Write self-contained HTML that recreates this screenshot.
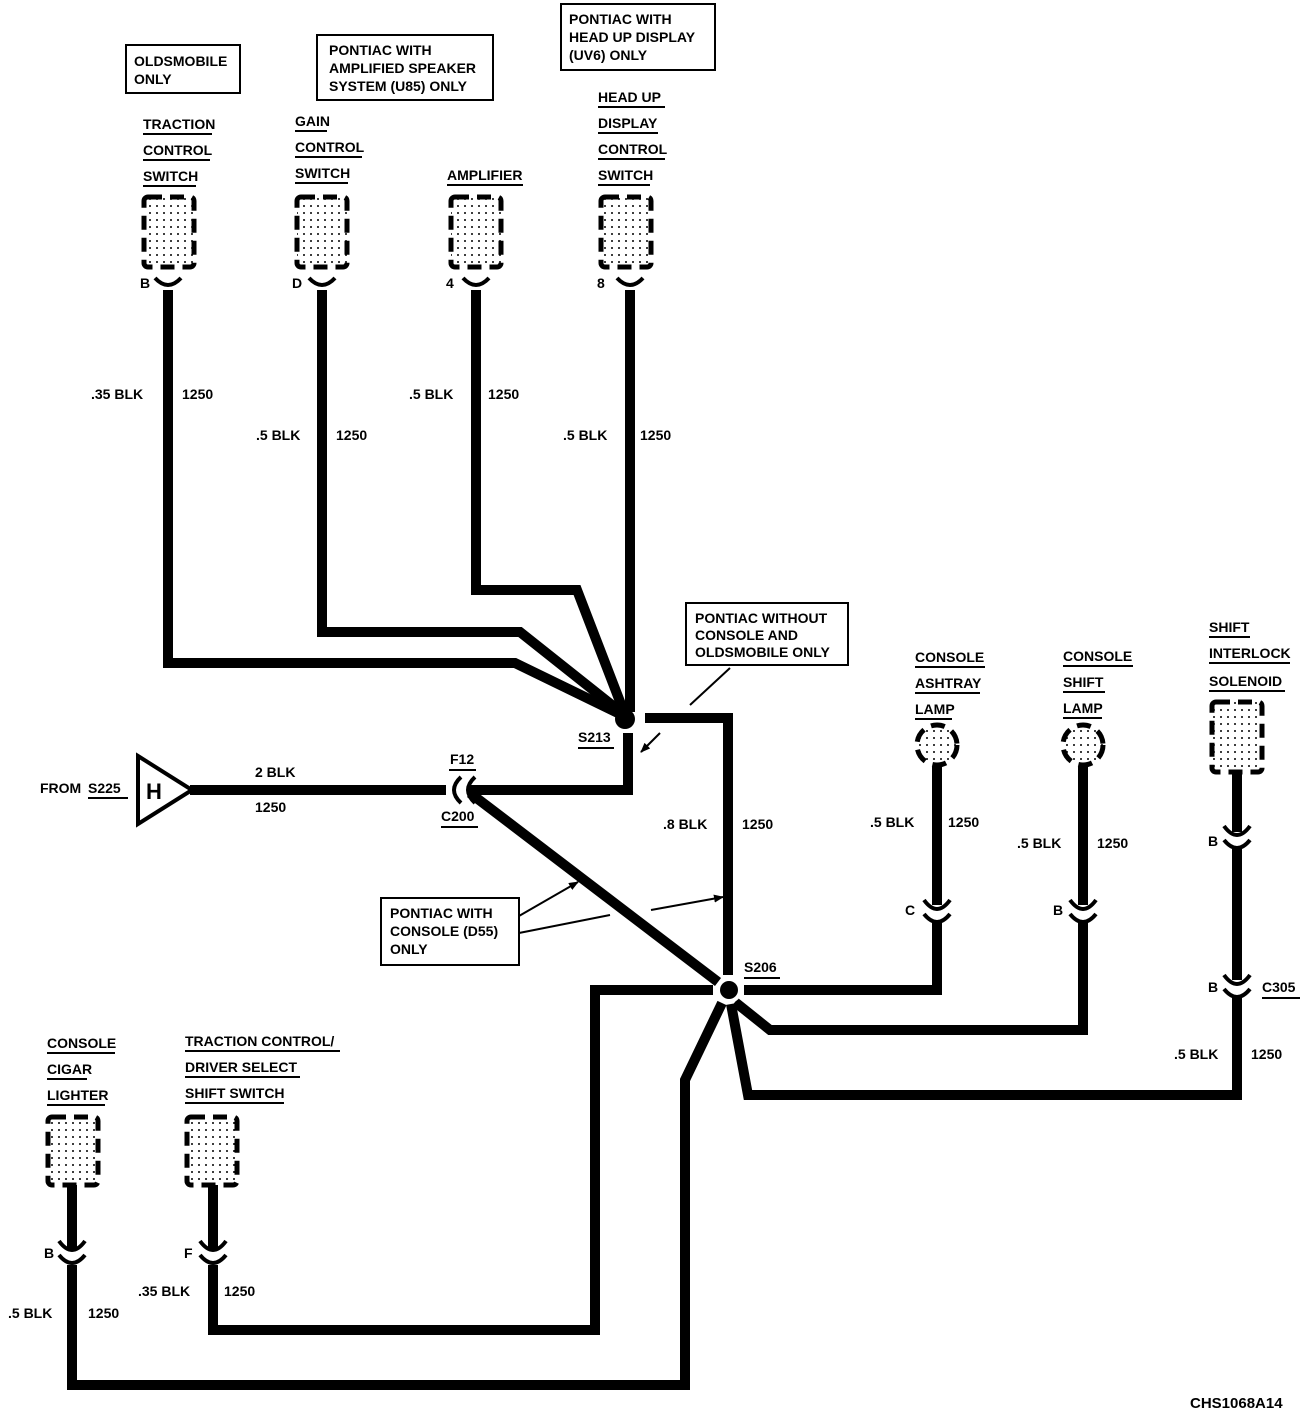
<!DOCTYPE html>
<html><head><style>
html,body{margin:0;padding:0;background:#fff;}
svg text{font-family:"Liberation Sans",sans-serif;font-weight:bold;font-size:14px;fill:#000;}
</style></head><body>
<svg width="1312" height="1416" viewBox="0 0 1312 1416" xmlns="http://www.w3.org/2000/svg">
<defs>
<pattern id="dots" width="7" height="7" patternUnits="userSpaceOnUse"><circle cx="3" cy="3" r="1" fill="#000"/></pattern>
<marker id="ar" markerWidth="10" markerHeight="8" refX="9" refY="4" orient="auto" markerUnits="userSpaceOnUse"><path d="M0 0 L10 4 L0 8 Z" fill="#000"/></marker>
</defs>

<g fill="none" stroke="#000" stroke-width="2">
<rect x="126" y="45" width="114" height="48"/>
<rect x="317" y="35" width="176" height="65"/>
<rect x="561" y="4" width="154" height="66"/>
<rect x="686" y="603" width="162" height="62"/>
<rect x="381" y="898" width="138" height="67"/>
</g>
<text x="134" y="66">OLDSMOBILE</text><text x="134" y="84">ONLY</text>
<text x="329" y="55">PONTIAC WITH</text><text x="329" y="73">AMPLIFIED SPEAKER</text><text x="329" y="91">SYSTEM (U85) ONLY</text>
<text x="569" y="24">PONTIAC WITH</text><text x="569" y="42">HEAD UP DISPLAY</text><text x="569" y="60">(UV6) ONLY</text>
<text x="695" y="623">PONTIAC WITHOUT</text><text x="695" y="640">CONSOLE AND</text><text x="695" y="657">OLDSMOBILE ONLY</text>
<text x="390" y="918">PONTIAC WITH</text><text x="390" y="936">CONSOLE (D55)</text><text x="390" y="954">ONLY</text>

<g>
<text x="143" y="129">TRACTION</text><text x="143" y="155">CONTROL</text><text x="143" y="181">SWITCH</text>
<text x="295" y="126">GAIN</text><text x="295" y="152">CONTROL</text><text x="295" y="178">SWITCH</text>
<text x="447" y="180">AMPLIFIER</text>
<text x="598" y="102">HEAD UP</text><text x="598" y="128">DISPLAY</text><text x="598" y="154">CONTROL</text><text x="598" y="180">SWITCH</text>
<text x="915" y="662">CONSOLE</text><text x="915" y="688">ASHTRAY</text><text x="915" y="714">LAMP</text>
<text x="1063" y="661">CONSOLE</text><text x="1063" y="687">SHIFT</text><text x="1063" y="713">LAMP</text>
<text x="1209" y="632">SHIFT</text><text x="1209" y="658">INTERLOCK</text><text x="1209" y="686">SOLENOID</text>
<text x="47" y="1048">CONSOLE</text><text x="47" y="1074">CIGAR</text><text x="47" y="1100">LIGHTER</text>
<text x="185" y="1046">TRACTION CONTROL/</text><text x="185" y="1072">DRIVER SELECT</text><text x="185" y="1098">SHIFT SWITCH</text>
</g>
<g stroke="#000" stroke-width="2">
<line x1="143" y1="134" x2="212" y2="134"/><line x1="143" y1="160" x2="210" y2="160"/><line x1="143" y1="186" x2="196" y2="186"/>
<line x1="295" y1="131" x2="327" y2="131"/><line x1="295" y1="157" x2="362" y2="157"/><line x1="295" y1="183" x2="348" y2="183"/>
<line x1="447" y1="185" x2="523" y2="185"/>
<line x1="598" y1="107" x2="665" y2="107"/><line x1="598" y1="133" x2="658" y2="133"/><line x1="598" y1="159" x2="665" y2="159"/><line x1="598" y1="185" x2="650" y2="185"/>
<line x1="915" y1="667" x2="985" y2="667"/><line x1="915" y1="693" x2="980" y2="693"/><line x1="915" y1="719" x2="952" y2="719"/>
<line x1="1063" y1="666" x2="1133" y2="666"/><line x1="1063" y1="692" x2="1105" y2="692"/><line x1="1063" y1="718" x2="1102" y2="718"/>
<line x1="1209" y1="637" x2="1250" y2="637"/><line x1="1209" y1="663" x2="1290" y2="663"/><line x1="1209" y1="691" x2="1285" y2="691"/>
<line x1="47" y1="1053" x2="115" y2="1053"/><line x1="47" y1="1079" x2="87" y2="1079"/><line x1="47" y1="1105" x2="105" y2="1105"/>
<line x1="185" y1="1051" x2="340" y2="1051"/><line x1="185" y1="1077" x2="300" y2="1077"/><line x1="185" y1="1103" x2="284" y2="1103"/>
</g>

<g stroke="#000" stroke-width="5" stroke-dasharray="14 8" fill="url(#dots)">
<rect x="144" y="197" width="50" height="70" rx="4"/>
<rect x="297" y="197" width="50" height="70" rx="4"/>
<rect x="451" y="197" width="50" height="70" rx="4"/>
<rect x="601" y="197" width="50" height="70" rx="4"/>
<rect x="1212" y="702" width="50" height="70" rx="4"/>
<rect x="48" y="1117" width="50" height="68" rx="4"/>
<rect x="187" y="1117" width="50" height="68" rx="4"/>
<circle cx="937" cy="745" r="20"/>
<circle cx="1083" cy="745" r="20"/>
</g>

<g fill="none" stroke="#000" stroke-width="10" stroke-linejoin="miter">
<polyline points="168,290 168,663 515,663 622,715"/>
<polyline points="322,290 322,632 520,632 622,713"/>
<polyline points="476,290 476,590 577,590 624,712"/>
<polyline points="630,290 630,712"/>
<polyline points="645,718 728,718 728,975"/>
<polyline points="628,733 628,790 470,790"/>
<polyline points="190,790 446,790"/>
<line x1="470" y1="793" x2="718" y2="982"/>
<polyline points="744,990 937,990 937,920"/>
<line x1="937" y1="905" x2="937" y2="767"/>
<polyline points="735,1002 770,1030 1083,1030 1083,920"/>
<line x1="1083" y1="905" x2="1083" y2="767"/>
<polyline points="731,1004 748,1095 1237,1095 1237,995"/>
<line x1="1237" y1="980" x2="1237" y2="848"/>
<line x1="1237" y1="832" x2="1237" y2="772"/>
<polyline points="713,990 595,990 595,1330 213,1330 213,1265"/>
<line x1="213" y1="1250" x2="213" y2="1185"/>
<polyline points="722,1003 685,1080 685,1385 72,1385 72,1265"/>
<line x1="72" y1="1250" x2="72" y2="1185"/>
</g>

<circle cx="625" cy="719" r="10" fill="#000"/>
<circle cx="729" cy="990" r="13" fill="#fff"/>
<circle cx="729" cy="990" r="9" fill="#000"/>

<g fill="none" stroke="#000" stroke-width="4">
<path d="M155 278 Q168 292 181 278"/>
<path d="M309 278 Q322 292 335 278"/>
<path d="M463 278 Q476 292 489 278"/>
<path d="M617 278 Q630 292 643 278"/>
<path d="M924 900 Q937 918 950 900"/><path d="M924 914 Q937 930 950 914"/>
<path d="M1070 900 Q1083 918 1096 900"/><path d="M1070 914 Q1083 930 1096 914"/>
<path d="M1224 826 Q1237 844 1250 826"/><path d="M1224 840 Q1237 856 1250 840"/>
<path d="M1224 975 Q1237 993 1250 975"/><path d="M1224 989 Q1237 1005 1250 989"/>
<path d="M59 1241 Q72 1259 85 1241"/><path d="M59 1255 Q72 1271 85 1255"/>
<path d="M200 1241 Q213 1259 226 1241"/><path d="M200 1255 Q213 1271 226 1255"/>
<path d="M461 777 Q447 790 461 803"/><path d="M475 777 Q461 790 475 803"/>
</g>

<path d="M138 756 L192 790 L138 824 Z" fill="#fff" stroke="#000" stroke-width="4"/>
<text x="146" y="799" style="font-size:22px">H</text>
<text x="40" y="793">FROM</text><text x="88" y="793">S225</text>
<line x1="88" y1="798" x2="128" y2="798" stroke="#000" stroke-width="2"/>

<g stroke="#000" stroke-width="2" fill="none">
<line x1="690" y1="705" x2="730" y2="668"/>
<line x1="660" y1="733" x2="641" y2="752" marker-end="url(#ar)"/>
<line x1="519" y1="916" x2="578" y2="882" marker-end="url(#ar)"/>
<line x1="519" y1="933" x2="610" y2="915"/>
<line x1="651" y1="910" x2="723" y2="897" marker-end="url(#ar)"/>
</g>

<text x="578" y="742">S213</text><line x1="578" y1="748" x2="614" y2="748" stroke="#000" stroke-width="2"/>
<text x="450" y="764">F12</text><line x1="449" y1="770" x2="476" y2="770" stroke="#000" stroke-width="2"/>
<text x="441" y="821">C200</text><line x1="441" y1="827" x2="478" y2="827" stroke="#000" stroke-width="2"/>
<text x="744" y="972">S206</text><line x1="744" y1="978" x2="780" y2="978" stroke="#000" stroke-width="2"/>
<text x="1262" y="992">C305</text><line x1="1262" y1="998" x2="1300" y2="998" stroke="#000" stroke-width="2"/>

<text x="140" y="288">B</text><text x="292" y="288">D</text><text x="446" y="288">4</text><text x="597" y="288">8</text>
<text x="905" y="915">C</text><text x="1053" y="915">B</text><text x="1208" y="846">B</text><text x="1208" y="992">B</text>
<text x="44" y="1258">B</text><text x="184" y="1258">F</text>

<text x="91" y="399">.35 BLK</text><text x="182" y="399">1250</text>
<text x="256" y="440">.5 BLK</text><text x="336" y="440">1250</text>
<text x="409" y="399">.5 BLK</text><text x="488" y="399">1250</text>
<text x="563" y="440">.5 BLK</text><text x="640" y="440">1250</text>
<text x="255" y="777">2 BLK</text><text x="255" y="812">1250</text>
<text x="663" y="829">.8 BLK</text><text x="742" y="829">1250</text>
<text x="870" y="827">.5 BLK</text><text x="948" y="827">1250</text>
<text x="1017" y="848">.5 BLK</text><text x="1097" y="848">1250</text>
<text x="1174" y="1059">.5 BLK</text><text x="1251" y="1059">1250</text>
<text x="8" y="1318">.5 BLK</text><text x="88" y="1318">1250</text>
<text x="138" y="1296">.35 BLK</text><text x="224" y="1296">1250</text>
<text x="1190" y="1408" style="font-size:15px">CHS1068A14</text>
</svg>
</body></html>
